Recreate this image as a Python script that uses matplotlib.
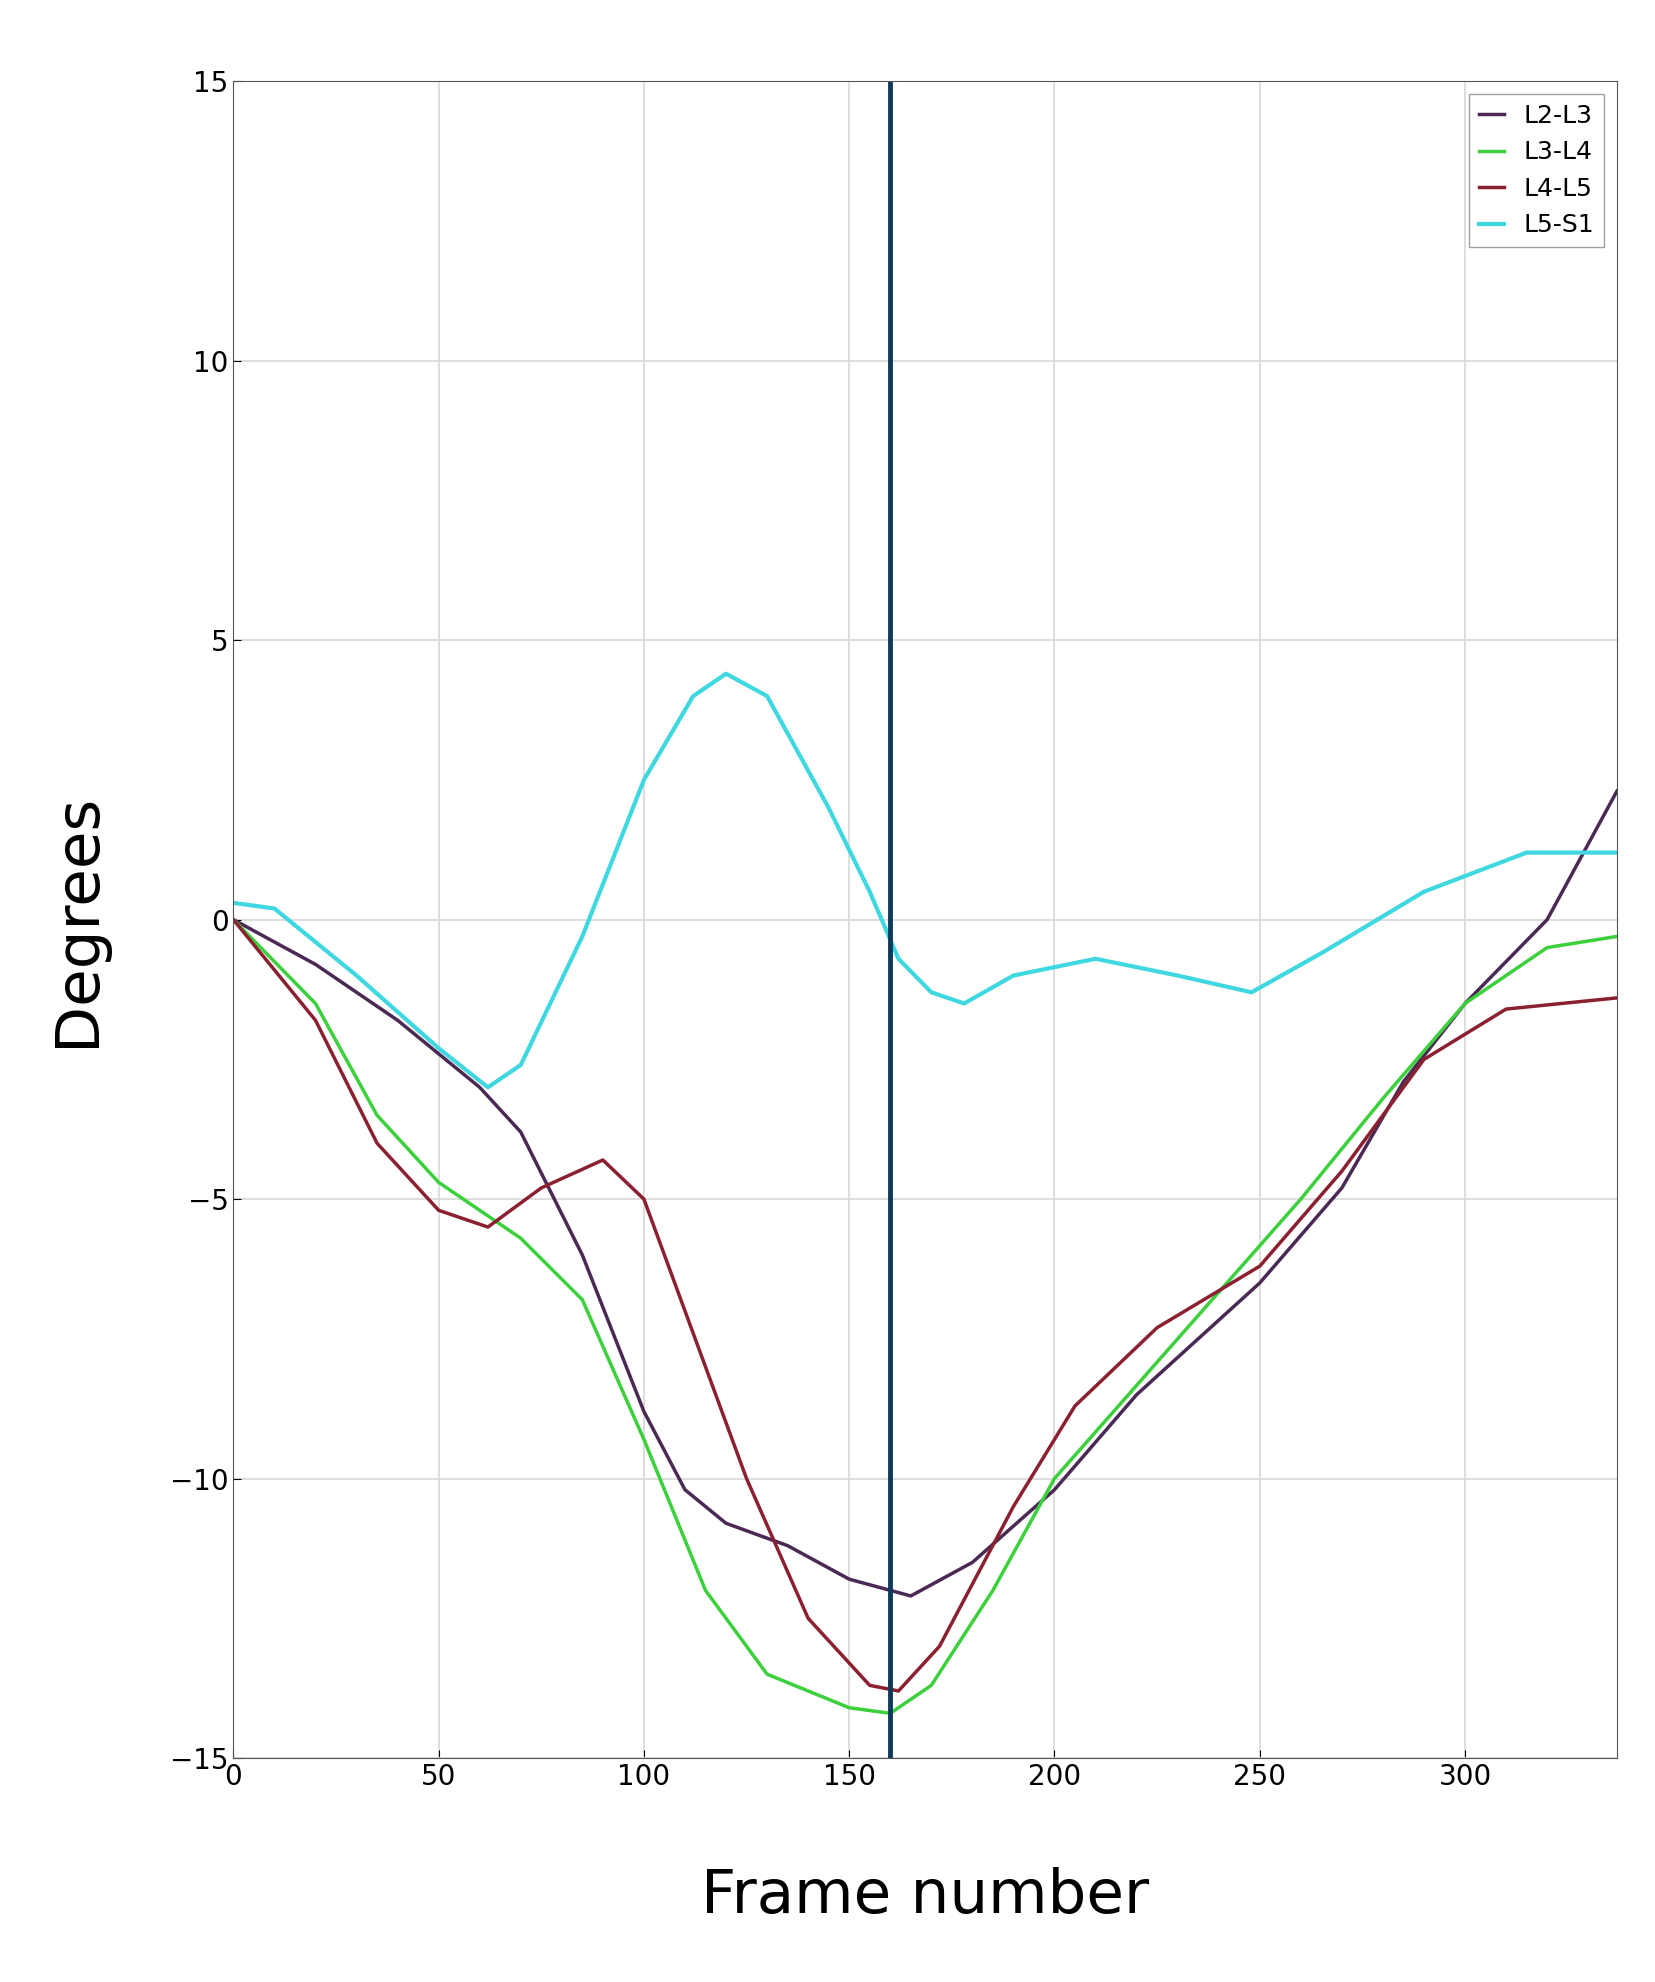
import numpy as np
import matplotlib.pyplot as plt

# values
cyan_x = [0, 10, 30, 50, 62, 70, 85, 100, 112, 120, 130, 145, 155, 162, 170, 178, 190, 210, 230, 248, 265, 290, 315, 337]
cyan_y = [0.3, 0.2, -1.0, -2.3, -3.0, -2.6, -0.3, 2.5, 4.0, 4.4, 4.0, 2.0, 0.5, -0.7, -1.3, -1.5, -1.0, -0.7, -1.0, -1.3, -0.6, 0.5, 1.2, 1.2]

l23_x = [0, 20, 40, 60, 70, 85, 100, 110, 120, 135, 150, 165, 180, 200, 220, 250, 270, 285, 300, 320, 337]
l23_y = [0, -0.8, -1.8, -3.0, -3.8, -6.0, -8.8, -10.2, -10.8, -11.2, -11.8, -12.1, -11.5, -10.2, -8.5, -6.5, -4.8, -2.9, -1.5, 0.0, 2.3]

l34_x = [0, 20, 35, 50, 70, 85, 100, 115, 130, 150, 160, 170, 185, 200, 230, 260, 280, 300, 320, 337]
l34_y = [0, -1.5, -3.5, -4.7, -5.7, -6.8, -9.3, -12.0, -13.5, -14.1, -14.2, -13.7, -12.0, -10.0, -7.5, -5.0, -3.2, -1.5, -0.5, -0.3]

l45_x = [0, 20, 35, 50, 62, 75, 90, 100, 110, 125, 140, 155, 162, 172, 190, 205, 225, 250, 270, 290, 310, 337]
l45_y = [0, -1.8, -4.0, -5.2, -5.5, -4.8, -4.3, -5.0, -7.0, -10.0, -12.5, -13.7, -13.8, -13.0, -10.5, -8.7, -7.3, -6.2, -4.5, -2.5, -1.6, -1.4]

marker_frame = 160

fig = plt.figure(figsize=(16.55, 19.82), dpi=100)
ax = fig.add_axes([0.141, 0.113, 0.836, 0.846])

ax.plot(l23_x, l23_y, color='#4a2a55', lw=2.5, label='L2-L3')
ax.plot(l34_x, l34_y, color='#3cd03c', lw=2.5, label='L3-L4')
ax.plot(l45_x, l45_y, color='#8b2030', lw=2.5, label='L4-L5')
ax.plot(cyan_x, cyan_y, color='#40d8e0', lw=3, label='L5-S1')
ax.axvline(marker_frame, color='#0b3a5c', lw=3.5)

ax.set_xlim(0, 337)
ax.set_ylim(-15, 15)
ax.set_xticks(np.arange(0, 301, 50))
ax.set_yticks(np.arange(-15, 16, 5))
ax.grid(True, color='#d8d8d8', lw=1.2)
ax.tick_params(labelsize=20, direction='in', length=6)
for s in ax.spines.values():
    s.set_color('#555555')

ax.set_xlabel('Frame number', fontsize=44, labelpad=55)
ax.set_ylabel('Degrees', fontsize=44, labelpad=45)
ax.legend(loc='upper right', fontsize=18, handlelength=1.0, fancybox=False, edgecolor='#888888')

fig.savefig('out.png', dpi=100)
